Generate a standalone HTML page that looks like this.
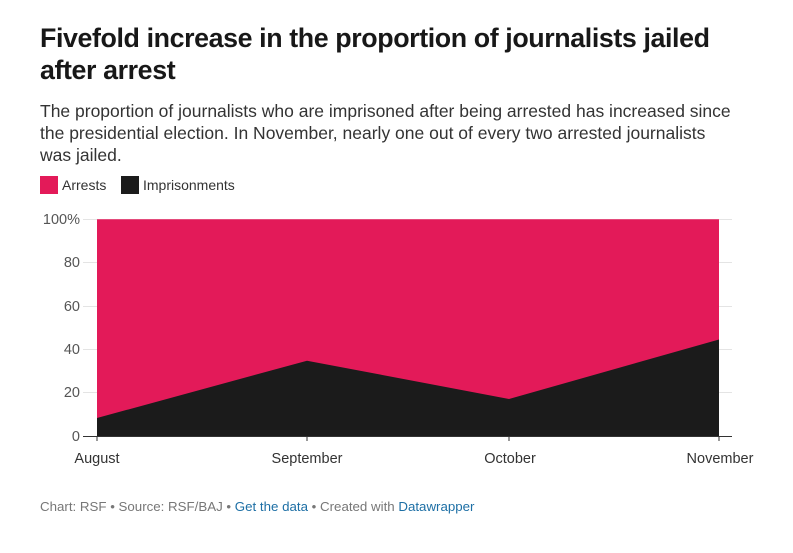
<!DOCTYPE html>
<html><head><style>
body{margin:0;background:#fff;font-family:"Liberation Sans",Arial,sans-serif;width:793px;height:553px;overflow:hidden;position:relative}
h1{position:absolute;left:40px;top:22px;margin:0;font-size:26.8px;line-height:32px;font-weight:bold;color:#181818;width:700px;letter-spacing:-0.4px}
.sub{position:absolute;left:40px;top:100px;font-size:17.5px;line-height:22px;color:#333;width:700px}
.leg{position:absolute;top:176px;font-size:14px;color:#333;line-height:18px}
.sw{display:inline-block;width:18px;height:18px;vertical-align:-4px;margin-right:4px}
.foot{position:absolute;left:40px;top:499px;font-size:13.3px;color:#777}
.foot a{color:#1d6fa5;text-decoration:none}
</style></head><body>
<h1>Fivefold increase in the proportion of journalists jailed after arrest</h1>
<div class="sub">The proportion of journalists who are imprisoned after being arrested has increased since the presidential election. In November, nearly one out of every two arrested journalists was jailed.</div>
<div class="leg" style="left:40px"><span class="sw" style="background:#e31a59"></span>Arrests</div>
<div class="leg" style="left:121px"><span class="sw" style="background:#1b1b1b"></span>Imprisonments</div>
<svg width="793" height="553" style="position:absolute;left:0;top:0" font-family="Liberation Sans,Arial,sans-serif">
<g stroke="#e4e4e4" stroke-width="1">
<line x1="83" y1="219.5" x2="732" y2="219.5"/><line x1="83" y1="262.5" x2="732" y2="262.5"/><line x1="83" y1="306.5" x2="732" y2="306.5"/><line x1="83" y1="349.5" x2="732" y2="349.5"/><line x1="83" y1="392.5" x2="732" y2="392.5"/>
</g>
<polygon points="97,219.3 719,219.3 719,436 97,436" fill="#e31a59"/>
<polygon points="97,418 307,360.7 509,399 719,339.5 719,436 97,436" fill="#1b1b1b"/>
<line x1="83" y1="436.5" x2="732" y2="436.5" stroke="#333"/>
<g stroke="#333"><line x1="97" y1="436" x2="97" y2="441"/><line x1="307" y1="436" x2="307" y2="441"/><line x1="509" y1="436" x2="509" y2="441"/><line x1="719" y1="436" x2="719" y2="441"/></g>
<g fill="#555" font-size="14.5" text-anchor="end">
<text x="80" y="224">100%</text><text x="80" y="267">80</text><text x="80" y="311">60</text><text x="80" y="354">40</text><text x="80" y="397">20</text><text x="80" y="441">0</text>
</g>
<g fill="#333" font-size="14.5" text-anchor="middle">
<text x="97" y="463">August</text><text x="307" y="463">September</text><text x="510" y="463">October</text><text x="720" y="463">November</text>
</g>
</svg>
<div class="foot">Chart: RSF • Source: RSF/BAJ • <a>Get the data</a> • Created with <a>Datawrapper</a></div>
</body></html>
